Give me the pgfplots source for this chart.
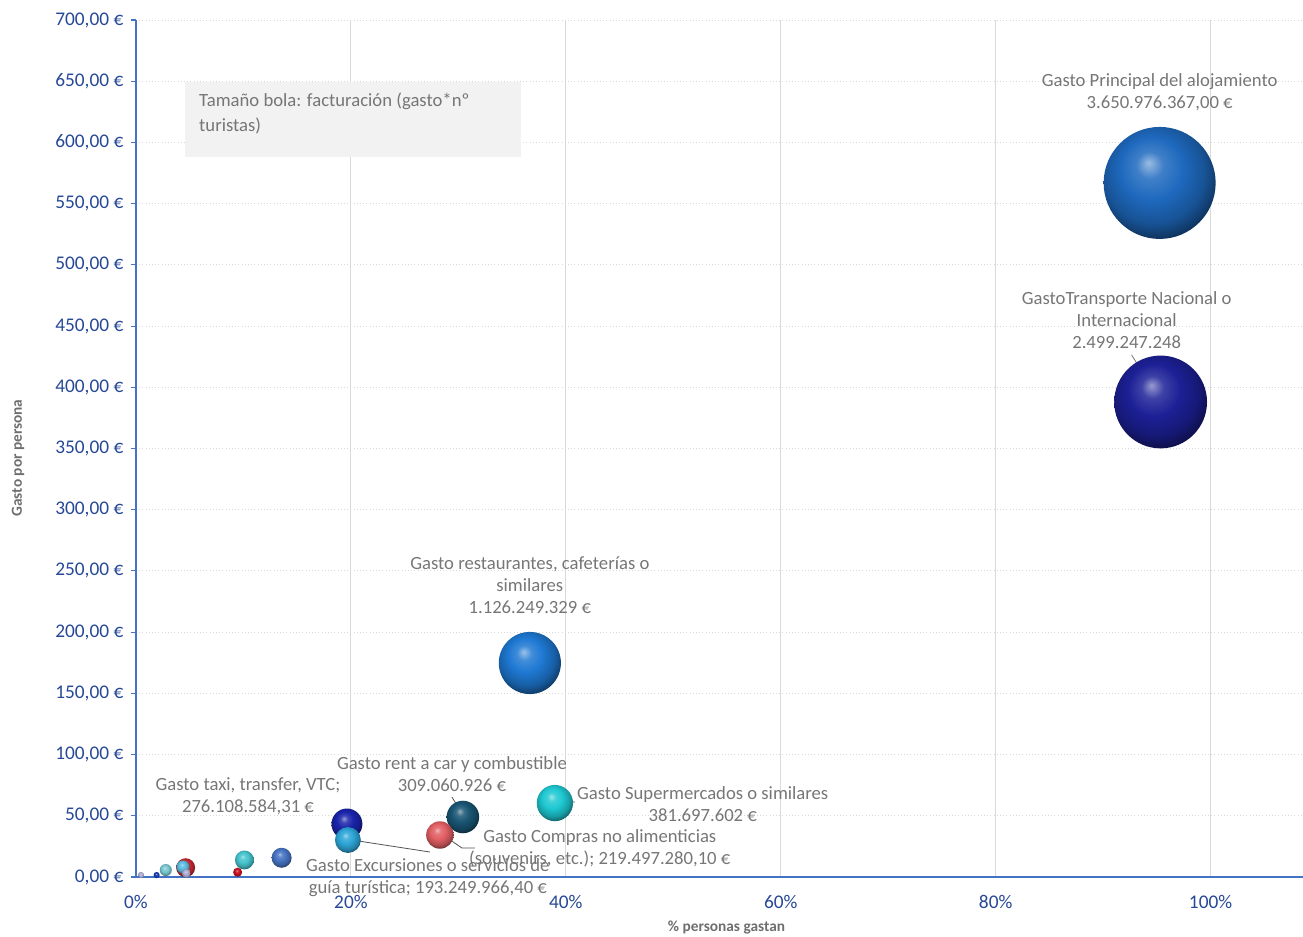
\documentclass[border=0pt]{standalone}
\usepackage{pgfplots}
\pgfplotsset{compat=1.18}
\usepackage{fontspec}
\setmainfont{Carlito}
\usetikzlibrary{plotmarks}
\makeatletter
\pgfdeclareradialshading[tikz@ball]{ball}{\pgfqpoint{-5bp}{9bp}}{%
  color(0bp)=(tikz@ball!45!white);
  color(6bp)=(tikz@ball!85!white);
  color(14bp)=(tikz@ball);
  color(23bp)=(tikz@ball!78!black);
  color(31bp)=(tikz@ball!40!black);
  color(40bp)=(black);
  color(50bp)=(black)}
\makeatother
\definecolor{tickblue}{RGB}{38,72,150}
\definecolor{axisblue}{RGB}{68,114,196}
\definecolor{lblgray}{RGB}{118,118,118}
\definecolor{titlegray}{RGB}{110,110,110}
\definecolor{gridgray}{RGB}{217,217,217}
\definecolor{boxgray}{RGB}{242,242,242}
\definecolor{cAloj}{RGB}{30,105,190}
\definecolor{cTransp}{RGB}{28,32,150}
\definecolor{cRest}{RGB}{30,120,210}
\definecolor{cSuper}{RGB}{30,200,210}
\definecolor{cRent}{RGB}{25,85,115}
\definecolor{cTaxi}{RGB}{25,35,170}
\definecolor{cCompras}{RGB}{225,95,100}
\definecolor{cExc}{RGB}{45,165,215}
\definecolor{cBlueS}{RGB}{70,115,195}
\definecolor{cCyanS}{RGB}{70,195,205}
\definecolor{cRedS}{RGB}{200,15,30}
\definecolor{cRedR}{RGB}{200,40,50}
\definecolor{cLightB}{RGB}{90,190,225}
\definecolor{cLav}{RGB}{170,170,210}
\definecolor{cDarkB}{RGB}{20,60,180}
\definecolor{cCyanT}{RGB}{120,200,210}
\pgfplotsset{bubble/.style={only marks, mark=ball, mark size=#1}}
\begin{document}
\begin{tikzpicture}
\begin{axis}[
  name=ax,
  scale only axis,
  width=875.25pt, height=642.75pt,
  xmin=0, xmax=1.086, ymin=0, ymax=700,
  clip=false,
  axis x line*=bottom, axis y line*=left,
  axis line style={axisblue, line width=0.9pt},
  xtick={0,0.2,0.4,0.6,0.8,1},
  xticklabels={0\%,20\%,40\%,60\%,80\%,100\%},
  ytick={0,50,...,700},
  yticklabels={0{,}00 €,50{,}00 €,100{,}00 €,150{,}00 €,200{,}00 €,250{,}00 €,300{,}00 €,350{,}00 €,400{,}00 €,450{,}00 €,500{,}00 €,550{,}00 €,600{,}00 €,650{,}00 €,700{,}00 €},
  tick align=outside,
  major tick length=4pt,
  tick style={axisblue, line width=0.8pt},
  xtick style={draw=none},
  ticklabel style={font=\fontsize{14.5}{16}\selectfont, text=tickblue},
  yticklabel style={xshift=-2pt},
  xticklabel style={yshift=-6pt},
  xmajorgrids, ymajorgrids,
  x grid style={gridgray, line width=0.8pt},
  y grid style={gridgray, dotted, line width=0.7pt},
  xlabel={\% personas gastan},
  ylabel={Gasto por persona},
  xlabel style={at={(axis description cs:0.506,-0.0591)}, anchor=center, font=\bfseries\fontsize{11.5}{13}\selectfont, text=titlegray},
  ylabel style={at={(axis description cs:-0.1011,0.489)}, anchor=center, font=\bfseries\fontsize{11.5}{13}\selectfont, text=titlegray},
  every mark/.append style={draw opacity=0},
]
% info box
\fill[boxgray] (axis cs:0.0456,649.4) rectangle (axis cs:0.3581,588.1);
\node[anchor=north west, align=left, inner sep=0pt, text=lblgray,
  font=\fontsize{14}{18.75}\selectfont] at (axis cs:0.0586,640.5)
  {Tamaño bola: facturación (gasto*nº\\turistas)};

% bubbles (x = % personas, y = gasto por persona, size from facturación)
\addplot[bubble=2.3pt, mark options={ball color=cLav, draw opacity=0}] coordinates {(0.0047,1.6)};
\addplot[bubble=2.3pt, mark options={ball color=cDarkB, draw opacity=0}] coordinates {(0.0192,1.6)};
\addplot[bubble=4.5pt, mark options={ball color=cCyanT, draw opacity=0}] coordinates {(0.0277,5.7)};
\addplot[bubble=7.1pt, mark options={ball color=cRedR, draw opacity=0}] coordinates {(0.0462,7.6)};
\addplot[bubble=4.9pt, mark options={ball color=cLightB, draw opacity=0}] coordinates {(0.0437,8.2)};
\addplot[bubble=3.4pt, mark options={ball color=cLav, draw opacity=0}] coordinates {(0.0468,3.0)};
\addplot[bubble=3.4pt, mark options={ball color=cRedS, draw opacity=0}] coordinates {(0.0946,3.9)};
\addplot[bubble=7.1pt, mark options={ball color=cCyanS, draw opacity=0}] coordinates {(0.1009,13.9)};
\addplot[bubble=7.5pt, mark options={ball color=cBlueS, draw opacity=0}] coordinates {(0.1355,15.7)};
\addplot[bubble=11.6pt, mark options={ball color=cTaxi, draw opacity=0}] coordinates {(0.1963,43.3)};
\addplot[bubble=9.7pt, mark options={ball color=cExc, draw opacity=0}] coordinates {(0.1972,30.2)};
\addplot[bubble=12.2pt, mark options={ball color=cRent, draw opacity=0}] coordinates {(0.3042,49.0)};
\addplot[bubble=10.3pt, mark options={ball color=cCompras, draw opacity=0}] coordinates {(0.2828,34.3)};
\addplot[bubble=13.6pt, mark options={ball color=cSuper, draw opacity=0}] coordinates {(0.3898,60.4)};
\addplot[bubble=23.3pt, mark options={ball color=cRest, draw opacity=0}] coordinates {(0.3665,174.8)};
\addplot[bubble=34.8pt, mark options={ball color=cTransp, draw opacity=0}] coordinates {(0.9535,388.0)};
\addplot[bubble=42pt, mark options={ball color=cAloj, draw opacity=0}] coordinates {(0.9526,566.9)};

% leader lines
\draw[lblgray, line width=0.6pt] (axis cs:0.9265,426.4) -- (axis cs:0.9526,389.6);
\draw[lblgray!70!black, line width=0.6pt] (axis cs:0.294,65.3) -- (axis cs:0.306,48.2);
\draw[lblgray!70!black, line width=0.6pt] (axis cs:0.3898,60.4) -- (axis cs:0.4084,61.3);
\draw[lblgray!70!black, line width=0.6pt] (axis cs:0.2828,35.9) -- (axis cs:0.3033,23.7) -- (axis cs:0.3153,23.7);
\draw[lblgray!70!black, line width=0.6pt] (axis cs:0.2009,30.2) -- (axis cs:0.2735,20.4);

% data labels
\tikzset{dl/.style={align=center, inner sep=0pt, text=lblgray, font=\fontsize{14}{16.5}\selectfont}}
\node[dl] at (axis cs:0.9526,641.2) {Gasto Principal del alojamiento\\3.650.976.367,00 €};
\node[dl] at (axis cs:0.9219,455.0) {GastoTransporte Nacional o\\Internacional\\2.499.247.248};
\node[dl] at (axis cs:0.3665,238.5) {Gasto restaurantes, cafeterías o\\similares\\1.126.249.329 €};
\node[dl] at (axis cs:0.294,84.1) {Gasto rent a car y combustible\\309.060.926 €};
\node[dl] at (axis cs:0.1042,66.2) {Gasto taxi, transfer, VTC;\\276.108.584,31 €};
\node[dl] at (axis cs:0.5274,59.6) {Gasto Supermercados o similares\\381.697.602 €};
\node[dl] at (axis cs:0.4316,23.7) {Gasto Compras no alimenticias\\(souvenirs, etc.); 219.497.280,10 €};
\node[dl] at (axis cs:0.2716,-0.8) {Gasto Excursiones o servicios de\\guía turística; 193.249.966,40 €};
\end{axis}
\pgfresetboundingbox
\path ([xshift=-102pt,yshift=-45pt]ax.south west) rectangle ([yshift=15pt]ax.north east);
\end{tikzpicture}
\end{document}
